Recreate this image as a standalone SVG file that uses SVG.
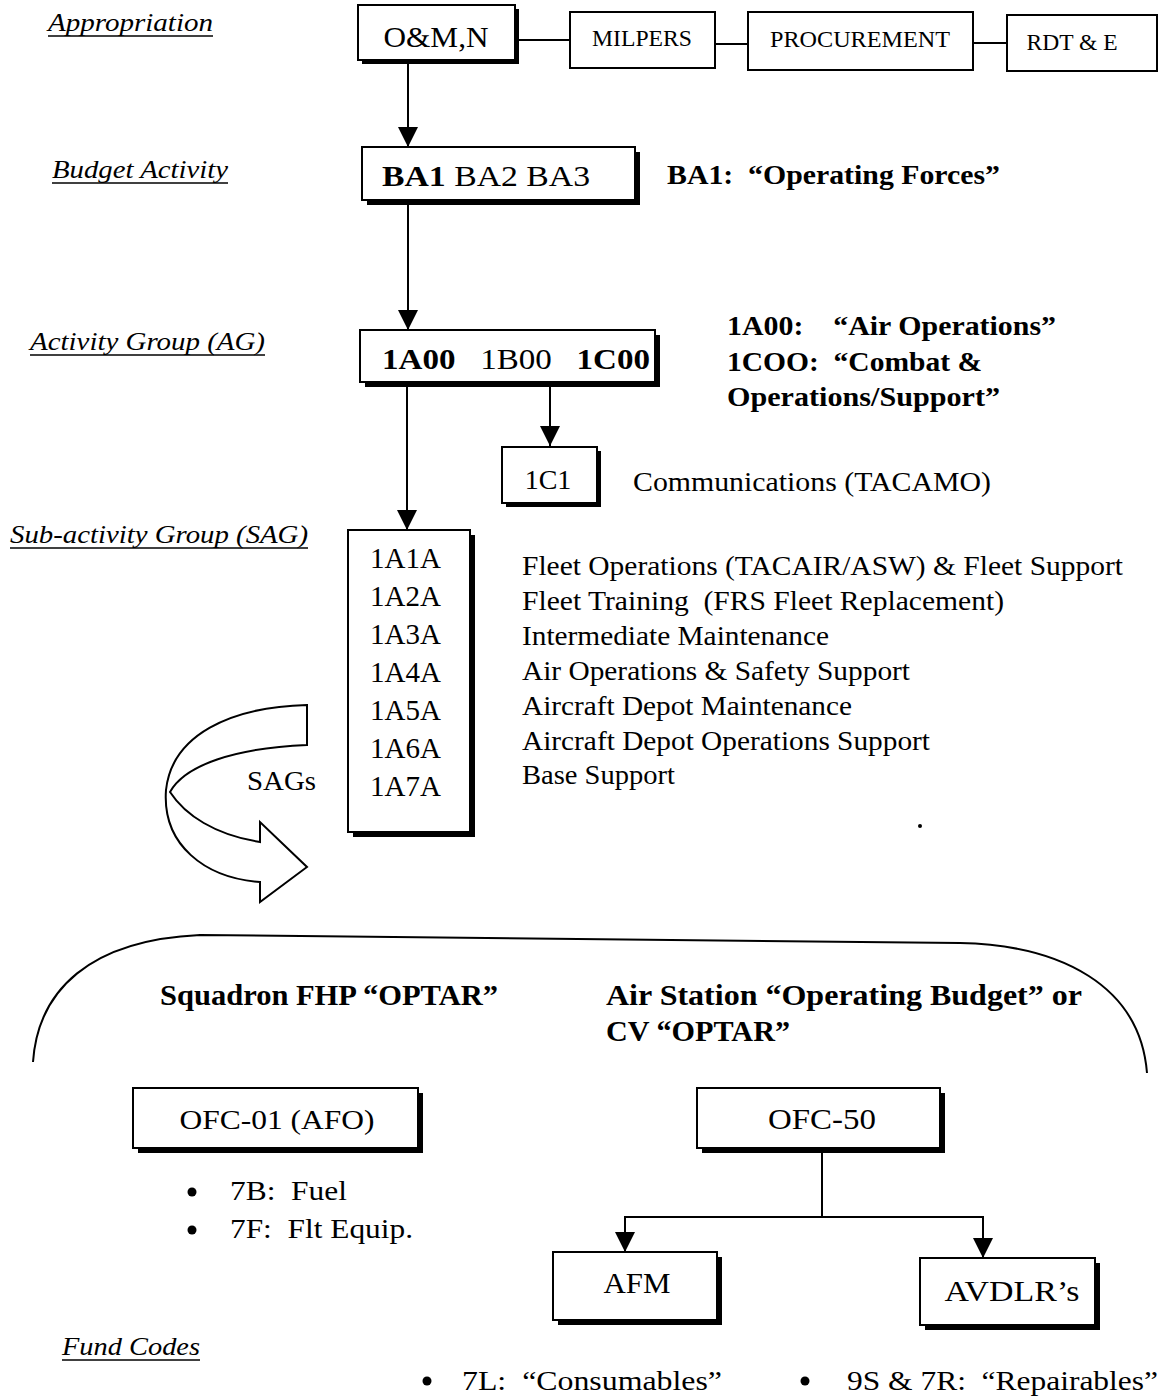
<svg xmlns="http://www.w3.org/2000/svg" width="1163" height="1399" viewBox="0 0 1163 1399">
<style>
.t{font-family:"Liberation Serif","Times New Roman",serif;fill:#000}
.b{font-weight:bold}
.i{font-style:italic}
.box{fill:#fff;stroke:#000;stroke-width:2}
.sh{fill:#000}
.ln{stroke:#000;stroke-width:2;fill:none}
.ul{stroke:#000;stroke-width:1.3}
</style>
<defs>
<marker id="ah" markerUnits="userSpaceOnUse" markerWidth="20" markerHeight="20" refX="20" refY="10" orient="auto">
<path d="M0,0 L20,10 L0,20 Z" fill="#000"/>
</marker>
</defs>
<rect width="1163" height="1399" fill="#fff"/>

<g id="labels">
<text class="t i" x="48" y="31" font-size="26" textLength="165" lengthAdjust="spacingAndGlyphs">Appropriation</text>
<line class="ul" x1="48" y1="36" x2="213" y2="36"/>
<text class="t i" x="52" y="178" font-size="26" textLength="176" lengthAdjust="spacingAndGlyphs">Budget Activity</text>
<line class="ul" x1="52" y1="183" x2="228" y2="183"/>
<text class="t i" x="30" y="350" font-size="26" textLength="235" lengthAdjust="spacingAndGlyphs">Activity Group (AG)</text>
<line class="ul" x1="30" y1="355" x2="265" y2="355"/>
<text class="t i" x="10" y="543" font-size="26" textLength="298" lengthAdjust="spacingAndGlyphs">Sub-activity Group (SAG)</text>
<line class="ul" x1="10" y1="548" x2="308" y2="548"/>
<text class="t i" x="62" y="1355" font-size="26" textLength="138" lengthAdjust="spacingAndGlyphs">Fund Codes</text>
<line class="ul" x1="62" y1="1360" x2="200" y2="1360"/>
</g>

<g id="connectors">
<line class="ln" x1="515" y1="40" x2="570" y2="40"/>
<line class="ln" x1="715" y1="44" x2="748" y2="44"/>
<line class="ln" x1="973" y1="43" x2="1007" y2="43"/>
<line class="ln" x1="408" y1="62" x2="408" y2="147" marker-end="url(#ah)"/>
<line class="ln" x1="408" y1="202" x2="408" y2="330" marker-end="url(#ah)"/>
<line class="ln" x1="550" y1="384" x2="550" y2="446" marker-end="url(#ah)"/>
<line class="ln" x1="407" y1="384" x2="407" y2="530" marker-end="url(#ah)"/>
<polyline class="ln" points="822,1150 822,1217" stroke-width="3"/>
<polyline class="ln" points="625,1240 625,1217 983,1217 983,1240" stroke-width="3"/>
<line class="ln" x1="625" y1="1217" x2="625" y2="1252" stroke-width="3" marker-end="url(#ah)"/>
<line class="ln" x1="983" y1="1217" x2="983" y2="1258" stroke-width="3" marker-end="url(#ah)"/>
</g>

<g id="node-omn">
<rect class="sh" x="362" y="9" width="157" height="55"/>
<rect class="box" x="358" y="5" width="157" height="55"/>
<text class="t" x="436" y="47" font-size="30" text-anchor="middle" textLength="105" lengthAdjust="spacingAndGlyphs">O&amp;M,N</text>
</g>
<g id="node-milpers">
<rect class="box" x="570" y="12" width="145" height="56"/>
<text class="t" x="642" y="46" font-size="24" text-anchor="middle" textLength="100" lengthAdjust="spacingAndGlyphs">MILPERS</text>
</g>
<g id="node-procurement">
<rect class="box" x="748" y="12" width="225" height="58"/>
<text class="t" x="860" y="47" font-size="24" text-anchor="middle" textLength="180" lengthAdjust="spacingAndGlyphs">PROCUREMENT</text>
</g>
<g id="node-rdte">
<rect class="box" x="1007" y="15" width="150" height="56"/>
<text class="t" x="1072" y="50" font-size="24" text-anchor="middle" textLength="91" lengthAdjust="spacingAndGlyphs">RDT &amp; E</text>
</g>

<g id="node-ba">
<rect class="sh" x="367" y="152" width="273" height="53"/>
<rect class="box" x="362" y="147" width="273" height="53"/>
<text class="t" x="382" y="186" font-size="30" textLength="208" lengthAdjust="spacingAndGlyphs"><tspan class="b">BA1</tspan> BA2 BA3</text>
</g>
<text class="t b" x="667" y="184" font-size="27" textLength="333" lengthAdjust="spacingAndGlyphs" xml:space="preserve">BA1:  “Operating Forces”</text>

<g id="node-ag">
<rect class="sh" x="365" y="335" width="295" height="52"/>
<rect class="box" x="360" y="330" width="295" height="52"/>
<text class="t" x="382" y="369" font-size="30" textLength="268" lengthAdjust="spacingAndGlyphs" xml:space="preserve"><tspan class="b">1A00</tspan>   1B00   <tspan class="b">1C00</tspan></text>
</g>
<text class="t b" x="727" y="335" font-size="27" textLength="329" lengthAdjust="spacingAndGlyphs" xml:space="preserve">1A00:    “Air Operations”</text>
<text class="t b" x="727" y="371" font-size="27" textLength="255" lengthAdjust="spacingAndGlyphs" xml:space="preserve">1COO:  “Combat &amp;</text>
<text class="t b" x="727" y="406" font-size="27" textLength="273" lengthAdjust="spacingAndGlyphs">Operations/Support”</text>

<g id="node-1c1">
<rect class="sh" x="506" y="451" width="95" height="56"/>
<rect class="box" x="502" y="447" width="95" height="56"/>
<text class="t" x="548" y="489" font-size="28" text-anchor="middle">1C1</text>
</g>
<text class="t" x="633" y="491" font-size="27" textLength="358" lengthAdjust="spacingAndGlyphs">Communications (TACAMO)</text>

<g id="node-sag">
<rect class="sh" x="353" y="535" width="122" height="302"/>
<rect class="box" x="348" y="530" width="122" height="302"/>
<text class="t" font-size="29">
<tspan x="370" y="568">1A1A</tspan>
<tspan x="370" y="606">1A2A</tspan>
<tspan x="370" y="644">1A3A</tspan>
<tspan x="370" y="682">1A4A</tspan>
<tspan x="370" y="720">1A5A</tspan>
<tspan x="370" y="758">1A6A</tspan>
<tspan x="370" y="796">1A7A</tspan>
</text>
</g>
<g id="sag-descriptions">
<text class="t" x="522" y="575" font-size="28" textLength="601" lengthAdjust="spacingAndGlyphs">Fleet Operations (TACAIR/ASW) &amp; Fleet Support</text>
<text class="t" x="522" y="610" font-size="28" textLength="482" lengthAdjust="spacingAndGlyphs" xml:space="preserve">Fleet Training  (FRS Fleet Replacement)</text>
<text class="t" x="522" y="645" font-size="28" textLength="307" lengthAdjust="spacingAndGlyphs">Intermediate Maintenance</text>
<text class="t" x="522" y="680" font-size="28" textLength="388" lengthAdjust="spacingAndGlyphs">Air Operations &amp; Safety Support</text>
<text class="t" x="522" y="715" font-size="28" textLength="330" lengthAdjust="spacingAndGlyphs">Aircraft Depot Maintenance</text>
<text class="t" x="522" y="750" font-size="28" textLength="408" lengthAdjust="spacingAndGlyphs">Aircraft Depot Operations Support</text>
<text class="t" x="522" y="784" font-size="28" textLength="153" lengthAdjust="spacingAndGlyphs">Base Support</text>
</g>

<g id="curved-arrow">
<path class="ln" stroke-width="1.8" d="M307,705 C230,707 172,735 166,790 C162,845 205,878 260,882 L260,902 L307,867 L260,822 L260,842 C215,835 185,815 170,792 C185,765 235,748 307,745 Z" fill="#fff"/>
<text class="t" x="247" y="790" font-size="27" textLength="69" lengthAdjust="spacingAndGlyphs">SAGs</text>
</g>
<circle cx="920" cy="826" r="2" fill="#000"/>

<g id="arc">
<path class="ln" stroke-width="3" d="M33,1062 C38,990 90,940 200,935 L960,943 C1060,945 1140,985 1147,1073"/>
</g>
<text class="t b" x="160" y="1005" font-size="30" textLength="338" lengthAdjust="spacingAndGlyphs">Squadron FHP “OPTAR”</text>
<text class="t b" x="606" y="1005" font-size="30" textLength="476" lengthAdjust="spacingAndGlyphs">Air Station “Operating Budget” or</text>
<text class="t b" x="606" y="1041" font-size="30" textLength="184" lengthAdjust="spacingAndGlyphs">CV “OPTAR”</text>

<g id="node-ofc01">
<rect class="sh" x="138" y="1093" width="285" height="60"/>
<rect class="box" x="133" y="1088" width="285" height="60"/>
<text class="t" x="277" y="1129" font-size="28" text-anchor="middle" textLength="195" lengthAdjust="spacingAndGlyphs">OFC-01 (AFO)</text>
</g>
<circle cx="192" cy="1192" r="4.5" fill="#000"/>
<text class="t" x="230" y="1200" font-size="28" xml:space="preserve" textLength="117" lengthAdjust="spacingAndGlyphs">7B:  Fuel</text>
<circle cx="192" cy="1230" r="4.5" fill="#000"/>
<text class="t" x="230" y="1238" font-size="28" xml:space="preserve" textLength="183" lengthAdjust="spacingAndGlyphs">7F:  Flt Equip.</text>

<g id="node-ofc50">
<rect class="sh" x="702" y="1093" width="243" height="60"/>
<rect class="box" x="697" y="1088" width="243" height="60"/>
<text class="t" x="822" y="1129" font-size="29" text-anchor="middle" textLength="108" lengthAdjust="spacingAndGlyphs">OFC-50</text>
</g>
<g id="node-afm">
<rect class="sh" x="558" y="1257" width="164" height="68"/>
<rect class="box" x="553" y="1252" width="164" height="68"/>
<text class="t" x="637" y="1293" font-size="30" text-anchor="middle" textLength="67" lengthAdjust="spacingAndGlyphs">AFM</text>
</g>
<g id="node-avdlr">
<rect class="sh" x="925" y="1263" width="175" height="67"/>
<rect class="box" x="920" y="1258" width="175" height="67"/>
<text class="t" x="1012" y="1301" font-size="30" text-anchor="middle" textLength="135" lengthAdjust="spacingAndGlyphs">AVDLR’s</text>
</g>

<circle cx="427" cy="1381" r="4.5" fill="#000"/>
<text class="t" x="462" y="1390" font-size="28" xml:space="preserve" textLength="260" lengthAdjust="spacingAndGlyphs">7L:  “Consumables”</text>
<circle cx="805" cy="1381" r="4.5" fill="#000"/>
<text class="t" x="847" y="1390" font-size="28" xml:space="preserve" textLength="311" lengthAdjust="spacingAndGlyphs">9S &amp; 7R:  “Repairables”</text>
</svg>
